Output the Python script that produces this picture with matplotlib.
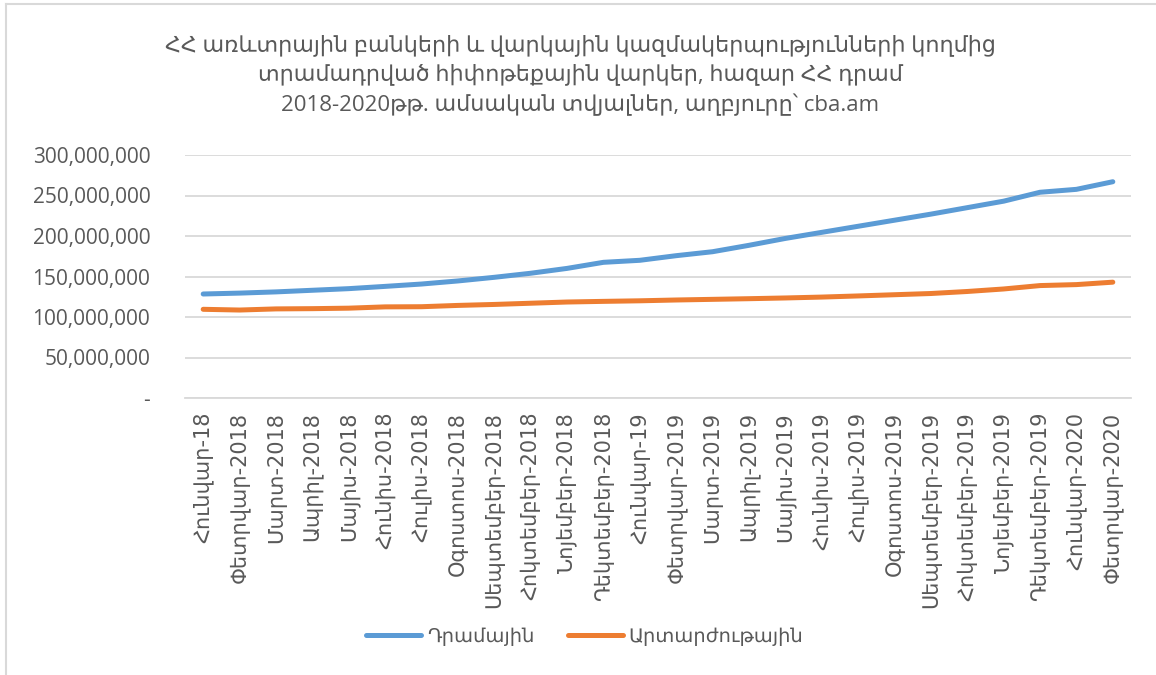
import matplotlib.pyplot as plt
from matplotlib.lines import Line2D
from matplotlib.ticker import FuncFormatter

plt.rcParams['font.family'] = ['Open Sans', 'DejaVu Sans']

months = ['Հունվար-18', 'Փետրվար-2018', 'Մարտ-2018', 'Ապրիլ-2018', 'Մայիս-2018',
          'Հունիս-2018', 'Հուլիս-2018', 'Օգոստոս-2018', 'Սեպտեմբեր-2018',
          'Հոկտեմբեր-2018', 'Նոյեմբեր-2018', 'Դեկտեմբեր-2018', 'Հունվար-19',
          'Փետրվար-2019', 'Մարտ-2019', 'Ապրիլ-2019', 'Մայիս-2019', 'Հունիս-2019',
          'Հուլիս-2019', 'Օգոստոս-2019', 'Սեպտեմբեր-2019', 'Հոկտեմբեր-2019',
          'Նոյեմբեր-2019', 'Դեկտեմբեր-2019', 'Հունվար-2020', 'Փետրվար-2020']

# thousand AMD
dram = [128.4e6, 129.5e6, 131.0e6, 133.0e6, 135.0e6, 137.8e6, 140.7e6, 144.5e6,
        149.0e6, 154.0e6, 160.0e6, 167.5e6, 170.0e6, 175.7e6, 180.6e6, 188.5e6,
        197.0e6, 204.5e6, 212.0e6, 219.5e6, 227.0e6, 235.0e6, 243.0e6, 254.0e6,
        257.6e6, 267.0e6]
foreign = [109.5e6, 108.6e6, 110.0e6, 110.3e6, 110.9e6, 112.5e6, 112.7e6, 114.3e6,
           115.5e6, 117.0e6, 118.5e6, 119.3e6, 120.0e6, 121.0e6, 121.8e6, 122.6e6,
           123.5e6, 124.6e6, 126.0e6, 127.5e6, 129.0e6, 131.5e6, 134.6e6, 138.8e6,
           140.0e6, 143.0e6]

labels = ['Դրամային', 'Արտարժութային']
title = ('ՀՀ առևտրային բանկերի և վարկային կազմակերպությունների կողմից\n'
         'տրամադրված հիփոթեքային վարկեր, հազար ՀՀ դրամ\n'
         '2018-2020թթ. ամսական տվյալներ, աղբյուրը՝ cba.am')

blue = '#5B9BD5'
orange = '#ED7D31'
grey_text = '#595959'
grid = '#D9D9D9'

fig = plt.figure(figsize=(11.56, 6.75), dpi=100)
ax = fig.add_axes([185 / 1156, 1 - 398 / 675, 946 / 1156, 243 / 675])

x = range(len(months))
ax.plot(x, dram, color=blue, lw=3.6, solid_capstyle='round')
ax.plot(x, foreign, color=orange, lw=3.6, solid_capstyle='round')

ax.set_xlim(-0.5, len(months) - 0.5)
ax.set_ylim(0, 300e6)
ax.set_yticks(range(0, 300000001, 50000000))
ax.yaxis.set_major_formatter(FuncFormatter(lambda v, p: '-' if v == 0 else f'{v:,.0f}'))
ax.set_xticks(list(x))
ax.set_xticklabels(months, rotation=90, fontsize=15, color=grey_text,
                   family='DejaVu Sans')
ax.tick_params(axis='y', length=0, pad=25, labelsize=15, labelcolor=grey_text)
ax.tick_params(axis='x', length=0, pad=10)

ax.grid(axis='y', color=grid, lw=1.3)
ax.set_axisbelow(True)
for s in ['top', 'right', 'left']:
    ax.spines[s].set_visible(False)
ax.spines['bottom'].set_color(grid)
ax.spines['bottom'].set_linewidth(1.3)

fig.text(0.502, 1 - 75 / 675, title, ha='center', va='center', fontsize=16,
         color=grey_text, linespacing=1.45)

handles = [Line2D([], [], color=blue, lw=3.6, solid_capstyle='round'),
           Line2D([], [], color=orange, lw=3.6, solid_capstyle='round')]
fig.legend(handles, labels, loc='center', bbox_to_anchor=(0.506, 1 - 637 / 675), ncol=2,
           frameon=False, fontsize=14, handlelength=2.8, handletextpad=0.3,
           columnspacing=1.75, labelcolor=grey_text)

# chart frame
fig.add_artist(Line2D([6 / 1156, 6 / 1156], [0, 1 - 4 / 675], transform=fig.transFigure,
                      color=grid, lw=1.5))
fig.add_artist(Line2D([6 / 1156, 1], [1 - 4 / 675, 1 - 4 / 675], transform=fig.transFigure,
                      color=grid, lw=1.5))

fig.savefig('out.png', dpi=100)
